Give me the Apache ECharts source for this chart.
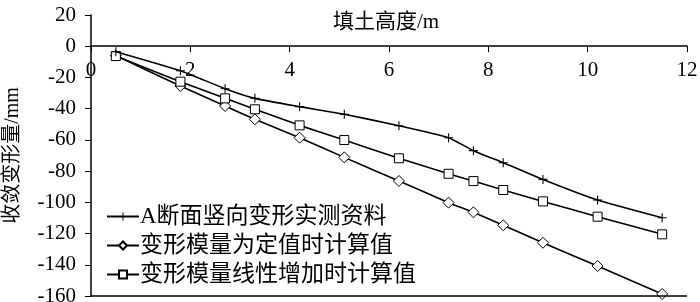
<!DOCTYPE html>
<html>
<head>
<meta charset="utf-8">
<script src="https://cdn.jsdelivr.net/npm/echarts@6/dist/echarts.min.js"></script>
<style>html,body{margin:0;padding:0;background:#fff;}#c{width:700px;height:302px;}</style>
</head>
<body>
<div id="c"></div>
<script>
const heights = [0.5, 1.8, 2.7, 3.3, 4.2, 5.1, 6.2, 7.2, 7.7, 8.3, 9.1, 10.2, 11.5];
const measured = [-3.5, -15.7, -27.2, -33.4, -38.7, -43.6, -50.9, -58.6, -66.9, -74.6, -85.3, -98.5, -109.9];
const constModulus = [-6.0, -25.5, -38.3, -46.8, -58.6, -71.2, -86.3, -100.2, -106.4, -114.7, -125.9, -140.8, -158.7];
const linearModulus = [-6.3, -22.7, -33.4, -40.4, -50.7, -60.1, -71.8, -81.7, -86.4, -92.1, -99.4, -109.2, -120.5];
const seriesNames = ['A断面竖向变形实测资料', '变形模量为定值时计算值', '变形模量线性增加时计算值'];
const xTitle = '填土高度/m';
const yTitle = '收敛变形量/mm';
const yMin = -160;

const pair = (ys) => heights.map((h, i) => [h, ys[i]]);
const fontFam = '"Liberation Serif", "Noto Sans CJK SC", serif';
const plusPath = 'path://M4.4,0h1.2v4.4h4.4v1.2h-4.4v4.4h-1.2v-4.4h-4.4v-1.2h4.4z';

const chart = echarts.init(document.getElementById('c'));
chart.setOption({
  backgroundColor: '#fff',
  animation: false,
  textStyle: { fontFamily: fontFam, color: '#000' },
  grid: { left: 91, right: 13, top: 15, bottom: 6, containLabel: false, outerBoundsMode: 'none' },
  title: {
    text: xTitle, left: 381, top: 7, textAlign: 'center',
    textStyle: { fontFamily: fontFam, fontSize: 21, fontWeight: 'normal', color: '#000' }
  },
  legend: {
    orient: 'vertical', left: 101, top: 200, itemGap: 6, itemWidth: 32, itemHeight: 10,
    textStyle: { fontFamily: fontFam, fontSize: 23, color: '#000', padding: [0, 0, 0, -4] },
    data: [seriesNames[0], seriesNames[1], seriesNames[2]]
  },
  xAxis: {
    type: 'value', min: 0, max: 12, interval: 2, position: 'bottom', offset: 0,
    axisLine: { onZero: false, lineStyle: { color: '#000', width: 1.5 } },
    axisTick: { show: true, length: 6, lineStyle: { color: '#000', width: 1 } },
    axisLabel: { fontFamily: fontFam, fontSize: 21, color: '#000', margin: 14 },
    splitLine: { show: false }
  },
  yAxis: {
    type: 'value', min: yMin, max: 20, interval: 20,
    name: yTitle, nameLocation: 'middle', nameGap: 68, nameRotate: 90,
    nameTextStyle: { fontFamily: fontFam, fontSize: 20, color: '#000' },
    axisLine: { onZero: false, lineStyle: { color: '#000', width: 1.5 } },
    axisTick: { show: true, length: 6, lineStyle: { color: '#000', width: 1 } },
    axisLabel: { fontFamily: fontFam, fontSize: 21, color: '#000', margin: 15 },
    splitLine: { show: false }
  },
  series: [
    {
      name: seriesNames[1], type: 'line', data: pair(constModulus), smooth: 0.15,
      symbol: 'diamond', symbolSize: 11, showAllSymbol: true,
      lineStyle: { color: '#000', width: 1.6 },
      itemStyle: { color: '#fff', borderColor: '#000', borderWidth: 1 }, z: 2,
      markLine: {
        silent: true, symbol: 'none', label: { show: false },
        lineStyle: { color: '#000', width: 1.5, type: 'solid' },
        data: [{ yAxis: yMin }]
      }
    },
    {
      name: seriesNames[2], type: 'line', data: pair(linearModulus), smooth: 0.15,
      symbol: 'rect', symbolSize: 9, showAllSymbol: true,
      lineStyle: { color: '#000', width: 1.6 },
      itemStyle: { color: '#fff', borderColor: '#000', borderWidth: 1 }, z: 3
    },
    {
      name: seriesNames[0], type: 'line', data: pair(measured), smooth: 0.15,
      symbol: plusPath, symbolSize: 9, showAllSymbol: true,
      lineStyle: { color: '#000', width: 1.6 },
      itemStyle: { color: '#000', borderWidth: 0 }, z: 4
    }
  ]
});
// Move the x axis (line, ticks, labels) up to the y = 0 level using the library's own scale.
const zeroY = chart.convertToPixel({ yAxisIndex: 0 }, 0);
const bottomY = chart.convertToPixel({ yAxisIndex: 0 }, yMin);
chart.setOption({ xAxis: { offset: -(bottomY - zeroY) } });
</script>
</body>
</html>
